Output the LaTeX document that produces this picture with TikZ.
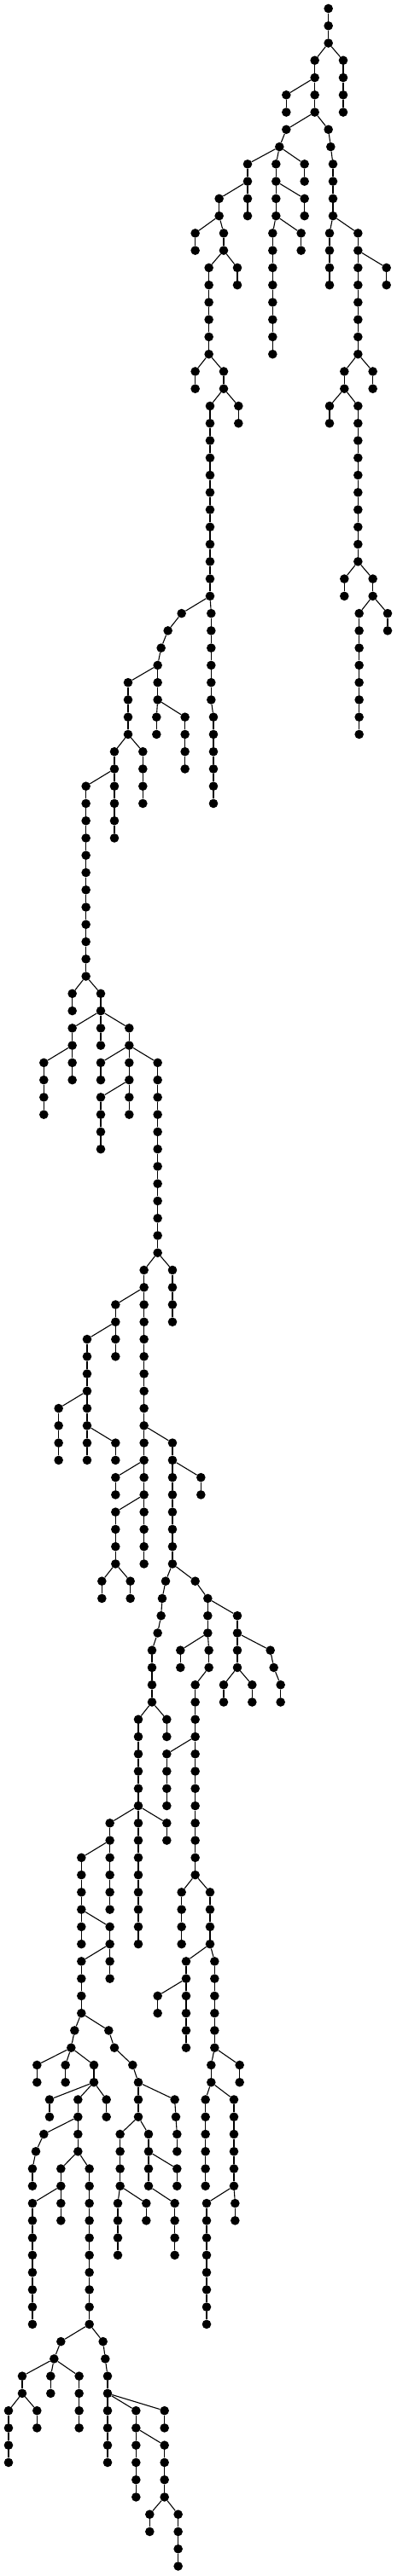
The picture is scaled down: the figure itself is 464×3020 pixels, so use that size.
\documentclass[tikz,border=0pt]{standalone}
\begin{document}
\begin{tikzpicture}[x=1pt,y=-1pt,
  v/.style={circle,fill=black,draw=none,inner sep=0pt,minimum size=10.6pt},
  e/.style={line width=1.1pt,black}]
\useasboundingbox (0,0) rectangle (464,3020);
\def\treelist{1/1154/1154,2/1154/1154,
3/1106/1154,3/1206/1154,
4/1106/1106,4/1206/1206,
5/1006/1106,5/1106/1106,5/1206/1206,
6/1006/1006,6/1106/1106,6/1206/1206,
7/1006/1106,7/1154/1106,
8/982/1006,8/1162/1154,
9/870/982,9/970/982,9/1070/982,9/1170/1162,
10/870/870,10/970/970,10/1070/1070,10/1170/1170,
11/770/870,11/870/870,11/970/970,11/1070/970,11/1170/1170,
12/770/770,12/870/870,12/970/970,12/1070/1070,12/1170/1170,
13/686/770,13/786/770,13/958/970,13/1058/970,13/1158/1170,13/1258/1170,
14/686/686,14/786/786,14/958/958,14/1058/1058,14/1158/1158,14/1258/1258,
15/734/786,15/834/786,15/958/958,15/1158/1158,15/1258/1258,15/1358/1258,
16/734/734,16/834/834,16/958/958,16/1158/1158,16/1258/1258,16/1358/1358,
21/686/734,21/786/734,21/1210/1258,21/1310/1258,
22/686/686,22/786/786,22/1210/1210,22/1310/1310,
23/738/786,23/838/786,23/1158/1210,23/1258/1210,
24/738/738,24/838/838,24/1158/1158,24/1258/1258,
33/738/738,33/1210/1258,33/1310/1258,
34/738/738,34/1210/1210,34/1310/1310,
35/638/738,35/742/738,35/1262/1310,35/1362/1310,
36/590/638,36/742/742,36/1262/1262,36/1362/1362,
37/566/590,37/742/742,37/1262/1262,
38/554/566,38/742/742,38/1262/1262,
39/450/554,39/554/554,39/742/742,39/1262/1262,
40/450/450,40/554/554,40/742/742,40/1262/1262,
41/450/450,41/550/554,41/650/554,41/750/742,41/1262/1262,
42/450/450,42/550/550,42/650/650,42/750/750,42/1262/1262,
43/402/450,43/502/450,43/650/650,43/750/750,
44/402/402,44/502/502,44/650/650,44/750/750,
45/302/402,45/402/402,45/502/502,45/750/750,
46/302/302,46/402/402,46/502/502,46/750/750,
47/302/302,47/402/402,
48/302/302,48/402/402,
57/254/302,57/354/302,
58/254/254,58/354/354,
59/254/354,59/354/354,59/454/354,
60/254/254,60/354/354,60/454/454,
61/154/254,61/254/254,61/354/454,61/454/454,61/554/454,
62/154/154,62/254/254,62/354/354,62/454/454,62/554/554,
63/154/154,63/354/454,63/454/454,63/554/554,
64/154/154,64/354/354,64/454/454,64/554/554,
65/354/354,65/554/554,
66/354/354,66/554/554,
73/506/554,73/606/554,
74/506/506,74/606/606,
75/406/506,75/506/506,75/606/606,
76/406/406,76/506/506,76/606/606,
77/306/406,77/406/406,77/506/506,
78/306/306,78/406/406,78/506/506,
79/306/306,79/506/506,
80/306/306,80/506/506,
81/206/306,81/306/306,81/506/506,
82/206/206,82/306/306,82/506/506,
83/206/206,83/306/306,83/406/306,83/506/506,83/606/506,
84/206/206,84/306/306,84/406/406,84/506/506,84/606/606,
85/406/506,85/506/506,85/606/606,85/706/606,
86/406/406,86/506/506,86/606/606,86/706/706,
87/406/506,87/506/506,87/606/606,
91/358/406,91/458/406,91/582/606,91/686/606,
92/358/358,92/458/458,92/570/582,92/730/686,
93/566/570,93/730/730,93/834/730,
94/554/566,94/730/730,94/834/834,
95/534/554,95/634/730,95/734/730,95/834/834,95/950/834,
96/534/534,96/634/634,96/734/734,96/834/834,96/962/950,
97/534/534,97/686/734,97/786/834,97/886/834,97/986/962,
98/534/534,98/686/686,98/786/786,98/886/886,98/986/986,
99/486/534,99/586/534,99/686/686,
100/486/486,100/586/586,100/686/686,
101/486/486,101/586/686,101/686/686,
105/386/486,105/486/486,105/586/486,105/686/686,
106/386/386,106/486/486,106/586/586,106/686/686,
107/286/386,107/386/386,107/486/486,107/686/686,
108/286/286,108/386/386,108/486/486,108/686/686,
109/286/286,109/386/386,109/486/486,109/638/686,109/738/686,
110/286/286,110/386/386,110/486/486,110/638/638,110/738/738,
111/286/286,111/386/286,111/486/486,111/638/638,111/738/738,
112/286/286,112/386/386,112/486/486,112/638/638,112/738/738,
113/286/386,113/386/386,113/654/738,113/754/738,
114/286/286,114/386/386,114/654/654,114/754/754,
115/286/286,115/554/654,115/654/654,115/754/754,
116/286/286,116/554/554,116/654/654,116/754/754,
117/262/286,117/382/286,117/654/654,117/754/754,
118/250/262,118/402/382,118/654/654,118/754/754,
119/130/250,119/230/250,119/330/250,119/466/402,119/742/754,119/842/754,
120/130/130,120/230/230,120/330/330,120/486/466,120/742/742,120/842/842,
121/174/330,121/274/330,121/374/330,121/486/486,121/614/486,121/722/742,121/822/742,
122/174/174,122/274/274,122/374/374,122/486/486,122/618/614,122/722/722,122/822/822,
123/154/274,123/274/274,123/422/486,123/522/486,123/622/618,123/722/722,123/822/822,
124/126/154,124/274/274,124/422/422,124/522/522,124/622/622,124/722/722,124/822/822,
125/114/126,125/214/274,125/314/274,125/422/422,125/522/522,125/622/522,125/722/722,125/822/822,
126/114/114,126/214/214,126/314/314,126/422/422,126/522/522,126/622/622,126/722/722,126/822/822,
127/114/214,127/214/214,127/314/314,127/414/422,127/514/422,127/614/522,127/726/822,127/826/822,
128/114/114,128/214/214,128/314/314,128/414/414,128/514/514,128/614/614,128/726/726,128/826/826,
129/114/114,129/314/314,129/414/414,129/614/614,129/726/726,
135/214/314,135/362/314,
136/190/214,136/370/362,
137/78/190,137/178/190,137/278/190,137/378/370,
138/78/78,138/178/178,138/278/278,138/378/378,
139/30/78,139/130/78,139/278/278,139/378/378,139/478/378,139/578/378,
140/30/30,140/130/130,140/278/278,140/378/378,140/478/478,140/578/578,
141/30/30,141/378/378,141/478/478,141/578/478,
142/30/30,142/378/378,142/478/478,142/578/578,
143/478/478,143/578/578,
144/478/478,144/578/578,
145/526/578,145/626/578,
146/526/526,146/626/626,
147/626/626,
148/626/626}
\def\chainlist{734/17/20,958/17/20,1258/17/20,738/25/32,1258/25/32,302/49/56,554/67/72,406/88/90,506/88/90,606/88/90,486/102/104,586/102/104,686/102/104,114/130/134,314/130/134,726/130/134,414/130/130,614/130/130}
% nodes
\node[v] (n0-1154) at ({1154/3},10) {};
\foreach \L/\X/\P in \treelist {
  \node[v] (n\L-\X) at ({\X/3},{10+20.26*\L}) {};
}
\foreach \X/\A/\B in \chainlist {
  \foreach \L in {\A,...,\B} {
    \node[v] (n\L-\X) at ({\X/3},{10+20.26*\L}) {};
  }
}
% edges
\foreach \L/\X/\P in \treelist {
  \pgfmathtruncatemacro\Lm{\L-1}
  \draw[e] (n\Lm-\P) -- (n\L-\X);
}
\foreach \X/\A/\B in \chainlist {
  \foreach \L in {\A,...,\B} {
    \pgfmathtruncatemacro\Lm{\L-1}
    \draw[e] (n\Lm-\X) -- (n\L-\X);
  }
}
\end{tikzpicture}
\end{document}
